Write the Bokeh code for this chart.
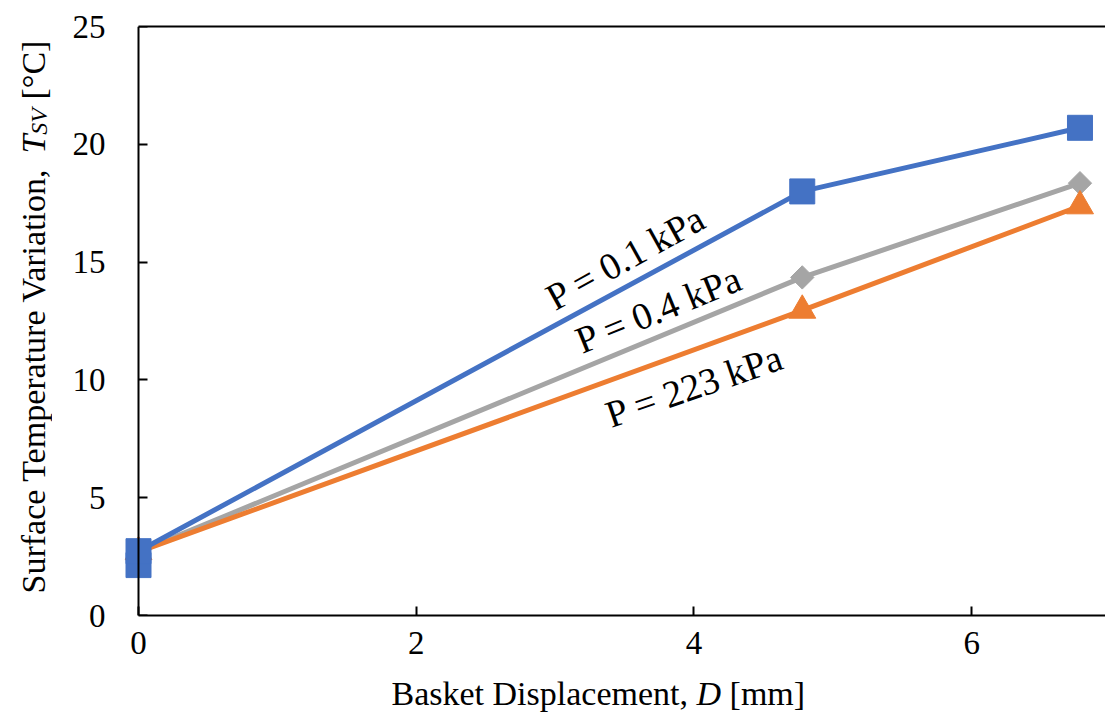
import math
from bokeh.plotting import figure
from bokeh.layouts import row, column
from bokeh.models import Range1d, LinearAxis, Label, FixedTicker
from bokeh.embed import file_html
from bokeh.resources import INLINE

# ---- data ----
x_blue = [0, 0, 4.78, 6.78]
y_blue = [2.14, 2.73, 18.0, 20.7]
x_gray = [0, 4.78, 6.78]
y_gray = [2.7, 14.35, 18.35]
x_orange = [0, 4.78, 6.78]
y_orange = [2.7, 12.95, 17.38]
x_ticks = [0, 2, 4, 6]
y_ticks = [0, 5, 10, 15, 20, 25]
labels_series = ["P = 0.1 kPa", "P = 0.4 kPa", "P = 223 kPa"]

BLUE = "#4472C4"
GRAY = "#A5A5A5"
ORANGE = "#ED7D31"
FONT = "Liberation Serif"

W, H = 1105, 717
LEFT_W = 52          # width of the y-label strip
MAIN_H = 670         # height of the main figure
AX_X, AX_R, AX_T, AX_B = 138, 1105, 26, 615   # axis box in window pixels
FRAME_L = 124        # frame starts a little left of the y axis so markers at x=0 are whole
S = 138.86           # pixels per x unit
XMAX = (AX_R - AX_X) / S
XMIN = -(AX_X - FRAME_L) / S
YMAX = 25
SHIFT = 12           # baseline correction for 34px text (px, text-up direction)

p = figure(width=W - LEFT_W, height=MAIN_H,
           x_range=Range1d(XMIN, XMAX), y_range=Range1d(0, YMAX),
           output_backend="svg", toolbar_location=None,
           min_border_left=FRAME_L - LEFT_W, min_border_right=0,
           min_border_top=AX_T, min_border_bottom=MAIN_H - AX_B)
p.outline_line_color = None
p.xgrid.visible = False
p.ygrid.visible = False
p.background_fill_color = "white"
p.border_fill_color = "white"

# x axis
xa = p.xaxis[0]
xa.ticker = FixedTicker(ticks=x_ticks)
xa.bounds = (0, XMAX)
xa.axis_line_width = 2
xa.axis_line_color = "black"
xa.major_tick_in = 9
xa.major_tick_out = 0
xa.major_tick_line_width = 2
xa.minor_tick_line_color = None
xa.major_label_text_font = FONT
xa.major_label_text_font_size = "33px"
xa.major_label_text_color = "black"
xa.major_label_standoff = 16

# y axis labels (at frame edge, no line)
ya = p.yaxis[0]
ya.ticker = FixedTicker(ticks=y_ticks)
ya.axis_line_color = None
ya.major_tick_line_color = None
ya.minor_tick_line_color = None
ya.major_tick_in = 0
ya.major_tick_out = 0
ya.major_label_text_font = FONT
ya.major_label_text_font_size = "33px"
ya.major_label_text_color = "black"
ya.major_label_standoff = FRAME_L - 105

# y axis line and ticks at x = 0
yl = LinearAxis(ticker=FixedTicker(ticks=y_ticks), fixed_location=0,
                axis_line_width=2, axis_line_color="black",
                major_tick_in=9, major_tick_out=0, major_tick_line_width=2,
                minor_tick_line_color=None, major_label_text_color=None,
                major_label_text_font_size="1px")
p.add_layout(yl, "left")

top = LinearAxis(ticker=FixedTicker(ticks=[]), axis_line_width=2, axis_line_color="black",
                 major_label_text_color=None, major_tick_line_color=None,
                 minor_tick_line_color=None, bounds=(0, XMAX))
p.add_layout(top, "above")

# ---- series ----
p.line(x_gray, y_gray, line_color=GRAY, line_width=5)
p.scatter(x_gray, y_gray, marker="square", size=16.5, angle=math.pi / 4,
          fill_color=GRAY, line_color=GRAY)
p.line(x_orange, y_orange, line_color=ORANGE, line_width=5)
p.scatter(x_orange, y_orange, marker="triangle", size=27, fill_color=ORANGE, line_color=ORANGE)
p.line(x_blue, y_blue, line_color=BLUE, line_width=5)
p.scatter(x_blue, y_blue, marker="square", size=25, fill_color=BLUE, line_color=BLUE)


def dx(px):
    return (px - AX_X) / S


def dy(py):
    return (AX_B - py) / (AX_B - AX_T) * YMAX


def ann(fig, text, x, y, size, angle=0.0, style="normal"):
    fig.add_layout(Label(x=x, y=y, text=text, text_font=FONT,
                         text_font_size=f"{size}px", text_font_style=style,
                         text_color="black", angle=angle, text_align="left",
                         text_baseline="alphabetic"))


# series annotations: baseline start in window pixels, shifted along text-up
AFS = 38
ash = SHIFT * AFS / 34
for txt, (bx, by, deg) in zip(labels_series, [(555, 311, 29), (582, 354, 22), (611, 428, 19)]):
    th = math.radians(deg)
    ax_ = bx - ash * math.sin(th)
    ay_ = by - ash * math.cos(th)
    ann(p, txt, dx(ax_), dy(ay_), AFS, th)


def strip(w, h, xr, yr, bl=0, br=0, bt=0, bb=0):
    f = figure(width=w, height=h, x_range=Range1d(*xr), y_range=Range1d(*yr),
               x_axis_type=None, y_axis_type=None, output_backend="svg",
               toolbar_location=None, min_border_left=bl, min_border_right=br,
               min_border_top=bt, min_border_bottom=bb)
    f.outline_line_color = None
    f.xgrid.visible = False
    f.ygrid.visible = False
    f.border_fill_color = "white"
    f.background_fill_color = "white"
    return f


fs = 34
# x axis label strip: data x = window x, data y = pixels above window bottom
XH = H - MAIN_H
xs = strip(W - LEFT_W, XH, (FRAME_L, W), (0, XH), bl=FRAME_L - LEFT_W)
base = H - (705 - SHIFT)
x0 = 391
ann(xs, "Basket Displacement,", x0, base, fs)
x1 = x0 + 8.971 * fs
ann(xs, "D", x1, base, fs, style="italic")
x2 = x1 + (0.722 + 0.25) * fs
ann(xs, "[mm]", x2, base, fs)

# y axis label strip (rotated): data x = window x, data y = H - window y
ys = strip(LEFT_W, H, (0, LEFT_W), (H - AX_B, H - AX_T), bt=AX_T, bb=H - AX_B)
a = math.pi / 2
bx = 45 - SHIFT
py0 = 593
ann(ys, "Surface Temperature Variation,", bx, H - py0, fs, a)
py1 = py0 - 12.94 * fs
ann(ys, "T", bx, H - py1, fs, a, "italic")
py2 = py1 - 0.556 * fs
ann(ys, "SV", bx + 5, H - py2, 24, a, "italic")
py3 = py2 - 1.111 * 24 - 0.25 * fs
ann(ys, "[°C]", bx, H - py3, fs, a)

layout = row(ys, column(p, xs, spacing=0), spacing=0)
open("out.html", "w").write(file_html(layout, INLINE))
